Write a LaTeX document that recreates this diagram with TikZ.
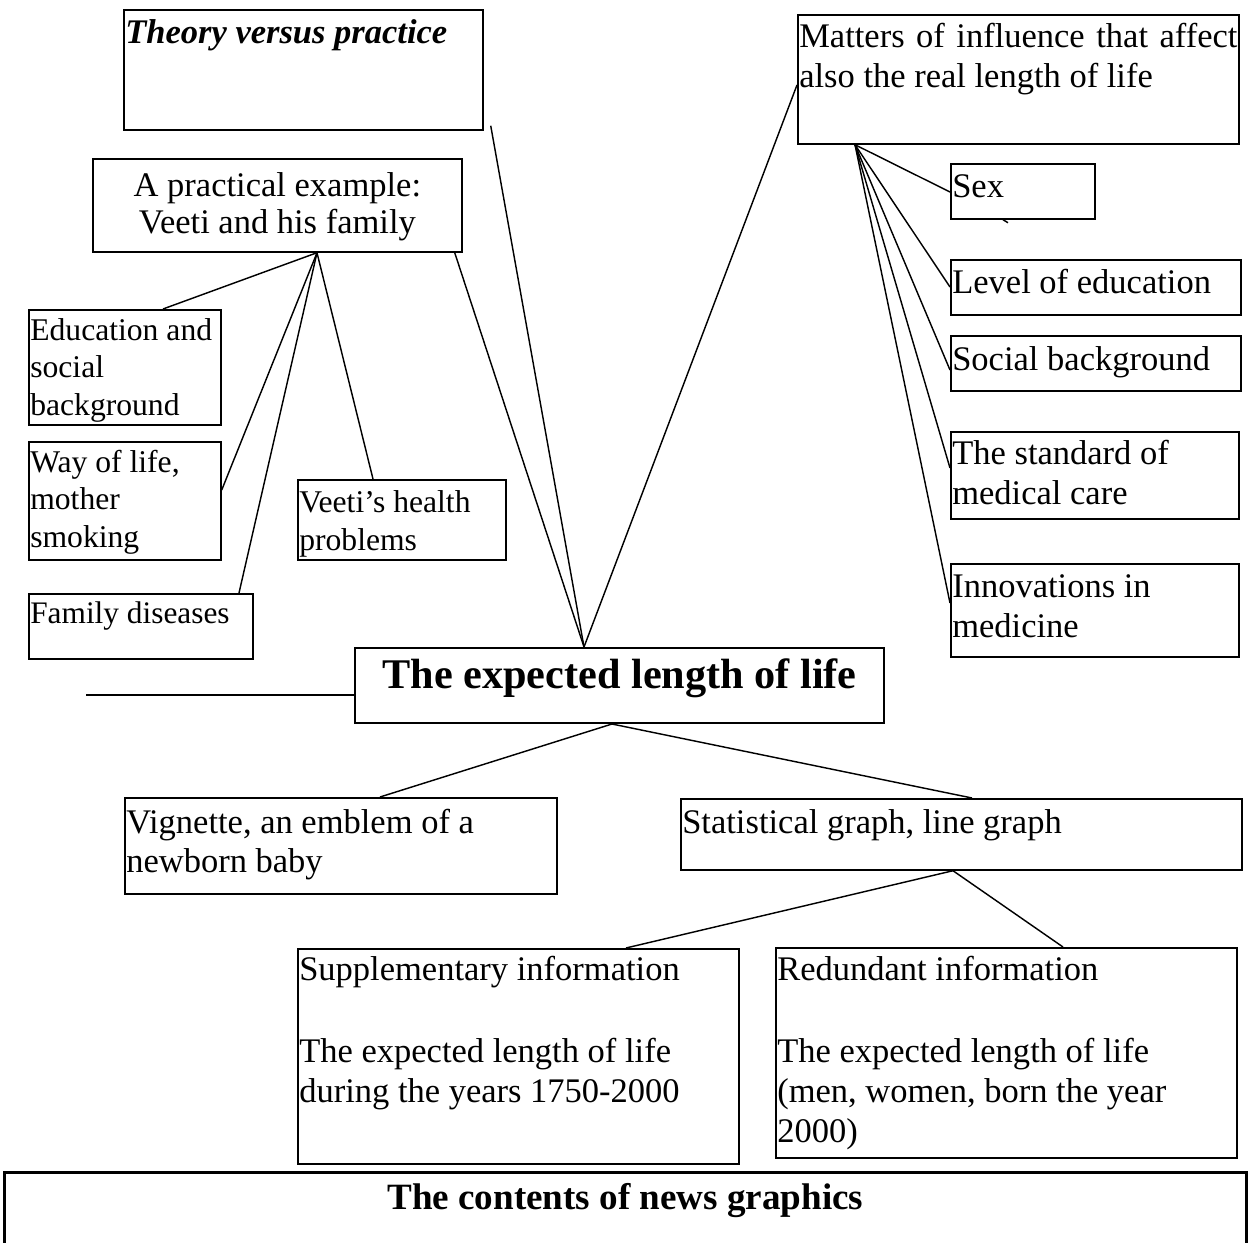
\documentclass[tikz,border=0pt]{standalone}
\usepackage{fontspec}
\setmainfont{Liberation Serif}[Ligatures=CommonOff]
\usetikzlibrary{calc}

% one pixel of the 1250 x 1243 page
\newdimen\px
\px=0.3478pt

% box text: [alignment]{width}{height}{first baseline}{text}
\newcommand{\boxtxt}[5][\raggedright]{%
  \parbox[c][#3\px][t]{\dimexpr#2\px-1pt\relax}{#1\rule{0pt}{#4\px}#5\par}}

\tikzset{
  box/.style={draw, line width=0.6pt, anchor=north west, inner xsep=0.5pt, inner ysep=0pt},
  txt/.style={font=\fontsize{12}{#1}\selectfont},
  txt/.default=13.2pt,
  txtsm/.style={font=\fontsize{11}{#1}\selectfont},
  txtsm/.default=12.9pt,
  link/.style={line width=0.5pt},
}

\begin{document}
\begin{tikzpicture}[x=\px, y=-\px]
    % page frame, the lowest box runs off the page
    \useasboundingbox (0,0) rectangle (1250,1243);
    \clip (0,0) rectangle (1250,1243);

    % top row
    \node[box, txt] (theory) at (123,9) {\boxtxt{359}{120}{34}{\textbf{\textit{Theory versus practice}}}};
    \node[box, txt=12.9pt] (prac) at (92,158) {\boxtxt[\centering]{369}{93}{38}{A practical example:\\Veeti and his family}};
    \node[box, txt=13.9pt] (matters) at (797,14) {\boxtxt[\relax]{441}{129}{33}{\makebox[\linewidth][s]{Matters of influence that affect}\\also the real length of life}};

    % left column
    \node[box, txtsm] (edu) at (28,309) {\boxtxt{192}{115}{31}{Education and\\social\\background}};
    \node[box, txtsm] (way) at (28,441) {\boxtxt{192}{118}{31}{Way of life,\\mother\\smoking}};
    \node[box, font=\fontsize{10.9}{13}\selectfont] (family) at (28,593) {\boxtxt{224}{65}{30}{Family diseases}};
    \node[box, txtsm=13.2pt] (health) at (297,479) {\boxtxt{208}{80}{33}{Veeti’s health\\problems}};

    % right column
    \node[box, txt] (sex) at (950,163) {\boxtxt{144}{55}{34}{Sex}};
    \node[box, txt] (level) at (950,259) {\boxtxt{290}{55}{34}{Level of education}};
    \node[box, txt] (social) at (950,335) {\boxtxt{290}{55}{35}{Social background}};
    \node[box, txt=13.9pt] (standard) at (950,431) {\boxtxt{288}{87}{33}{The standard of\\medical care}};
    \node[box, txt=13.9pt] (innov) at (950,563) {\boxtxt{288}{93}{34}{Innovations in\\medicine}};

    % centre and lower part
    \node[box, line width=0.7pt, font=\fontsize{14.7}{17}\selectfont\bfseries] (expd) at (354,647) {\boxtxt[\centering]{529}{75}{40}{The expected length of life}};
    \node[box, txt=13.6pt] (vign) at (124,797) {\boxtxt{432}{96}{36}{Vignette, an emblem of a\\newborn baby}};
    \node[box, txt] (stat) at (680,798) {\boxtxt{561}{71}{35}{Statistical graph, line graph}};
    \node[box, txt=13.9pt] (supp) at (297,948) {\boxtxt{441}{215}{32}{Supplementary information\\[14.5pt]The expected length of life\\during the years 1750-2000}};
    \node[box, txt=13.9pt] (red) at (775,947) {\boxtxt{461}{210}{33}{Redundant information\\[14.5pt]The expected length of life\\(men, women, born the year\\2000)}};
    \node[box, line width=0.9pt, font=\fontsize{12.9}{15}\selectfont\bfseries] (news) at (3,1171) {\boxtxt[\centering]{1242}{100}{37}{The contents of news graphics}};

    % lines into the central box
    \coordinate (thyfoot) at ($(theory.south east)+(7,-5)$);
    \coordinate (midtop) at ($(expd.north west)+(230,0)$);
    \draw[link] (thyfoot) -- (midtop);
    \draw[link] ($(prac.south east)+(-8,0)$) -- (midtop);
    \draw[link] ($(matters.north west)+(0,71)$) -- (midtop);

    % practical example branches
    \coordinate (prachub) at ($(prac.south west)+(225,0)$);
    \draw[link] (prachub) -- ($(edu.north west)+(135,0)$);
    \draw[link] (prachub) -- ($(way.north east)+(0,49)$);
    \draw[link] (prachub) -- ($(family.north west)+(211,0)$);
    \draw[link] (prachub) -- ($(health.north west)+(76,0)$);

    % matters of influence branches
    \coordinate (mathub) at ($(matters.south west)+(58,0)$);
    \foreach \bx/\dy in {sex/29, level/28, social/35, standard/37, innov/40}
        \draw[link] (mathub) -- ($(\bx.north west)+(0,\dy)$);
    \draw[link] ($(sex.south west)+(53,0)$) -- ++(5,3);

    % lower tree
    \coordinate (lstub) at (86,695);
    \draw[link] (lstub) -- (lstub -| expd.west);
    \coordinate (midlow) at ($(expd.south west)+(258,0)$);
    \draw[link] (midlow) -- ($(vign.north west)+(256,0)$);
    \draw[link] (midlow) -- ($(stat.north west)+(292,0)$);
    \coordinate (stathub) at ($(stat.south west)+(273,0)$);
    \draw[link] (stathub) -- ($(supp.north west)+(329,0)$);
    \draw[link] (stathub) -- ($(red.north west)+(288,0)$);
\end{tikzpicture}
\end{document}
